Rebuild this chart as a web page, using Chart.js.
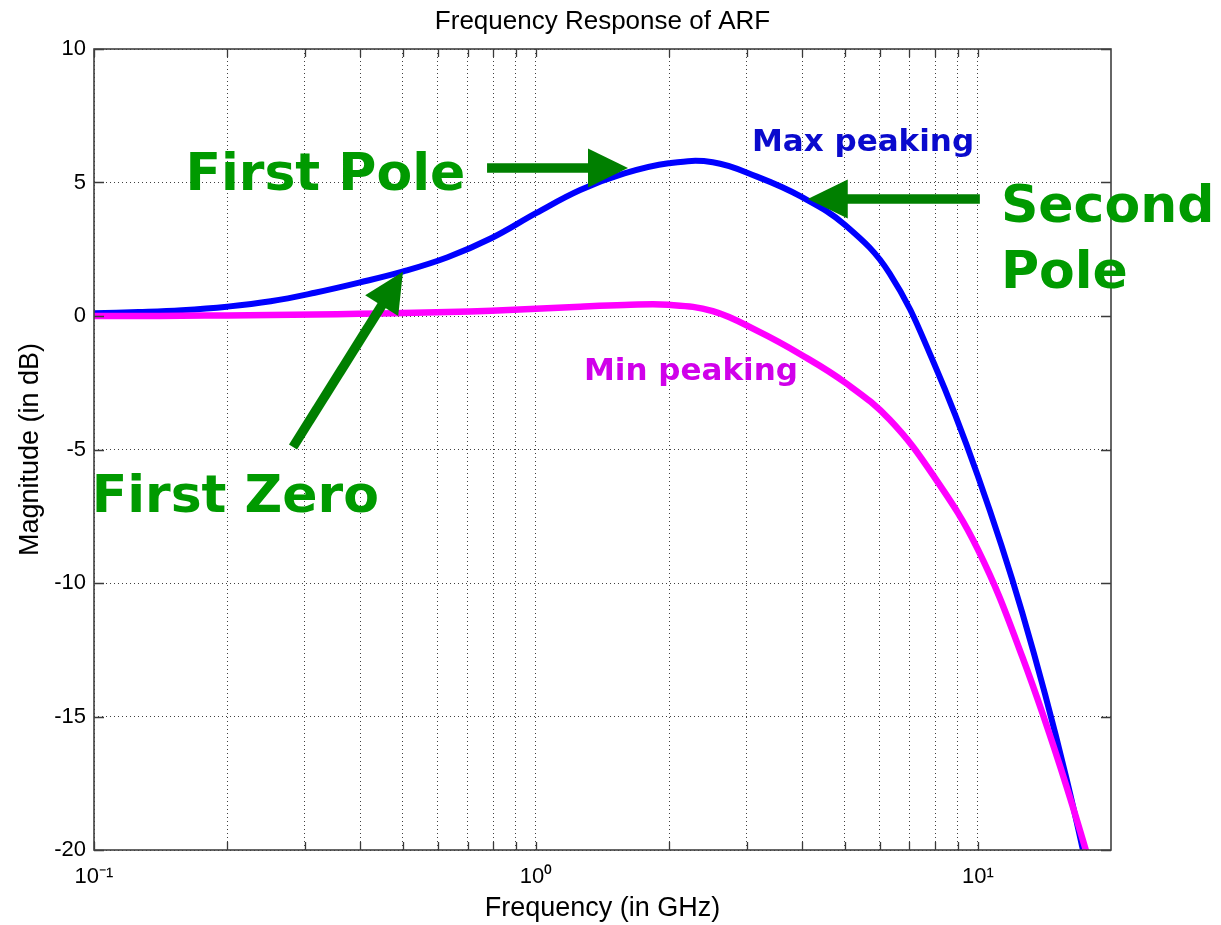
<!DOCTYPE html>
<html>
<head>
<meta charset="utf-8">
<script src="https://cdn.jsdelivr.net/npm/chart.js@4.4.1/dist/chart.umd.min.js"></script>
<style>
  html, body { margin: 0; padding: 0; background: #fff; }
  #wrap { width: 1221px; height: 925px; }
</style>
</head>
<body>
<div id="wrap"><canvas id="c" width="1221" height="925"></canvas></div>
<script>
'use strict';

// frequency points (GHz), 10 per decade
const freqGHz = [0.1, 0.126, 0.158, 0.2, 0.251, 0.316, 0.398, 0.501, 0.631, 0.794,
  1.0, 1.259, 1.585, 1.995, 2.512, 3.162, 3.981, 5.012, 6.31, 7.943,
  10, 12.59, 15.85, 19.95];

// magnitude in dB
const maxPeakingDb = [0.1, 0.15, 0.22, 0.35, 0.55, 0.87, 1.25, 1.67, 2.2, 2.92,
  3.85, 4.72, 5.34, 5.72, 5.76, 5.22, 4.47, 3.4, 1.6, -1.75,
  -6.0, -11.1, -17.3, -24.8];
const minPeakingDb = [0.0, 0.0, 0.01, 0.02, 0.04, 0.06, 0.08, 0.11, 0.15, 0.2,
  0.27, 0.35, 0.41, 0.42, 0.18, -0.55, -1.45, -2.5, -3.88, -6.0,
  -8.75, -12.75, -17.6, -23.2];

// grid / tick positions on the log axis
const xGridTicks = [0.1, 0.2, 0.3, 0.4, 0.5, 0.6, 0.7, 0.8, 0.9, 1, 2, 3, 4, 5, 6, 7, 8, 9, 10];
const xRange = [0.1, 20];
const yRange = [-20, 10];
const yStep = 5;

// callouts, anchored in data coordinates
const notes = [
  { text: 'First Pole', x: 0.161, y: 4.72, color: '#009a00', font: 'bold 52px "DejaVu Sans"' },
  { text: 'Second', x: 11.27, y: 3.53, color: '#009a00', font: 'bold 52px "DejaVu Sans"' },
  { text: 'Pole', x: 11.27, y: 1.04, color: '#009a00', font: 'bold 52px "DejaVu Sans"' },
  { text: 'First Zero', x: 0.0988, y: -7.33, color: '#009a00', font: 'bold 52px "DejaVu Sans"' },
  { text: 'Max peaking', x: 3.08, y: 6.19, color: '#0a0acd', font: 'bold 31px "DejaVu Sans"' },
  { text: 'Min peaking', x: 1.284, y: -2.4, color: '#d000ea', font: 'bold 31px "DejaVu Sans"' },
];
const arrows = [
  { from: [0.775, 5.54], to: [1.615, 5.54] },
  { from: [10.1, 4.38], to: [4.12, 4.38] },
  { from: [0.282, -4.91], to: [0.5, 1.66] },
];

const isDecade = (v) => Math.abs(Math.log10(v) - Math.round(Math.log10(v))) < 1e-9;
const sup = { '-': '\u207B', '0': '\u2070', '1': '\u00B9', '2': '\u00B2', '3': '\u00B3' };
const decadeLabel = (v) => '10' + String(Math.round(Math.log10(v))).split('').map(c => sup[c] || c).join('');

function drawArrow(ctx, x0, y0, x1, y1) {
  const dx = x1 - x0, dy = y1 - y0;
  const len = Math.hypot(dx, dy);
  const ux = dx / len, uy = dy / len;
  const nx = -uy, ny = ux;
  const headL = 40, headW = 19.5, shaft = 9.5;
  const bx = x1 - ux * headL, by = y1 - uy * headL;
  ctx.lineWidth = shaft;
  ctx.lineCap = 'butt';
  ctx.beginPath();
  ctx.moveTo(x0, y0);
  ctx.lineTo(bx + ux * 2, by + uy * 2);
  ctx.stroke();
  ctx.beginPath();
  ctx.moveTo(x1, y1);
  ctx.lineTo(bx + nx * headW, by + ny * headW);
  ctx.lineTo(bx - nx * headW, by - ny * headW);
  ctx.closePath();
  ctx.fill();
}

const matlabFrame = {
  id: 'matlabFrame',
  beforeDraw(chart) {
    const { ctx } = chart;
    ctx.save();
    ctx.fillStyle = '#ffffff';
    ctx.fillRect(0, 0, chart.width, chart.height);
    ctx.restore();
  },
  afterDraw(chart) {
    const { ctx, chartArea: a, scales } = chart;
    const sx = scales.x, sy = scales.y;
    ctx.save();
    // inward tick marks on all four sides
    ctx.strokeStyle = '#3a3a3a';
    ctx.lineWidth = 1.3;
    ctx.beginPath();
    xGridTicks.forEach(v => {
      const px = Math.round(sx.getPixelForValue(v)) + 0.5;
      ctx.moveTo(px, a.bottom); ctx.lineTo(px, a.bottom - 8);
      ctx.moveTo(px, a.top); ctx.lineTo(px, a.top + 8);
    });
    for (let v = yRange[0]; v <= yRange[1]; v += yStep) {
      const py = Math.round(sy.getPixelForValue(v)) + 0.5;
      ctx.moveTo(a.left, py); ctx.lineTo(a.left + 10, py);
      ctx.moveTo(a.right, py); ctx.lineTo(a.right - 10, py);
    }
    ctx.stroke();
    // box
    ctx.lineWidth = 1.6;
    ctx.strokeStyle = '#404040';
    ctx.strokeRect(a.left, a.top, a.right - a.left, a.bottom - a.top);

    // arrows
    ctx.fillStyle = '#007f00';
    ctx.strokeStyle = '#007f00';
    arrows.forEach(ar => {
      drawArrow(ctx,
        sx.getPixelForValue(ar.from[0]), sy.getPixelForValue(ar.from[1]),
        sx.getPixelForValue(ar.to[0]), sy.getPixelForValue(ar.to[1]));
    });

    // callout text
    ctx.textAlign = 'left';
    ctx.textBaseline = 'alphabetic';
    notes.forEach(n => {
      ctx.font = n.font;
      ctx.fillStyle = n.color;
      ctx.fillText(n.text, sx.getPixelForValue(n.x), sy.getPixelForValue(n.y));
    });
    ctx.restore();
  }
};

const gridStyle = {
  color: 'rgba(0,0,0,0.75)',
  lineWidth: 1,
  drawTicks: false,
};

new Chart(document.getElementById('c').getContext('2d'), {
  type: 'line',
  data: {
    datasets: [
      {
        label: 'Max peaking',
        data: freqGHz.map((f, i) => ({ x: f, y: maxPeakingDb[i] })),
        borderColor: '#0000ff',
        borderWidth: 6,
        pointRadius: 0,
        tension: 0.4,
        order: 2,
      },
      {
        label: 'Min peaking',
        data: freqGHz.map((f, i) => ({ x: f, y: minPeakingDb[i] })),
        borderColor: '#ff00ff',
        borderWidth: 6.5,
        pointRadius: 0,
        tension: 0.4,
        order: 1,
      },
    ]
  },
  options: {
    responsive: false,
    animation: false,
    layout: { padding: { top: 0, right: 110, bottom: 0, left: 0 } },
    scales: {
      x: {
        type: 'logarithmic',
        min: xRange[0],
        max: xRange[1],
        afterBuildTicks: (scale) => { scale.ticks = xGridTicks.map(v => ({ value: v })); },
        afterFit: (scale) => { scale.height = 75; },
        grid: gridStyle,
        border: { display: false, dash: [1, 3] },
        ticks: {
          autoSkip: false,
          maxRotation: 0,
          padding: 14,
          color: '#000',
          font: { family: '"Liberation Sans", Arial', size: 22 },
          callback: (v) => isDecade(v) ? decadeLabel(v) : '',
        },
        title: {
          display: true,
          text: 'Frequency (in GHz)',
          color: '#000',
          font: { family: '"Liberation Sans", Arial', size: 27 },
          padding: { top: 0, bottom: 0 },
        },
      },
      y: {
        min: yRange[0],
        max: yRange[1],
        afterFit: (scale) => { scale.width = 94; },
        grid: gridStyle,
        border: { display: false, dash: [1, 3] },
        ticks: {
          stepSize: yStep,
          padding: 8,
          color: '#000',
          font: { family: '"Liberation Sans", Arial', size: 22 },
        },
        title: {
          display: true,
          text: 'Magnitude (in dB)',
          color: '#000',
          font: { family: '"Liberation Sans", Arial', size: 27 },
          padding: { top: 14, bottom: 0 },
        },
      }
    },
    plugins: {
      legend: { display: false },
      tooltip: { enabled: false },
      title: {
        display: true,
        fullSize: false,
        text: 'Frequency Response of ARF',
        color: '#000',
        font: { family: '"Liberation Sans", Arial', size: 26, weight: 'normal' },
        padding: { top: 6, bottom: 11.8 },
      },
    }
  },
  plugins: [matlabFrame]
});
</script>
</body>
</html>
